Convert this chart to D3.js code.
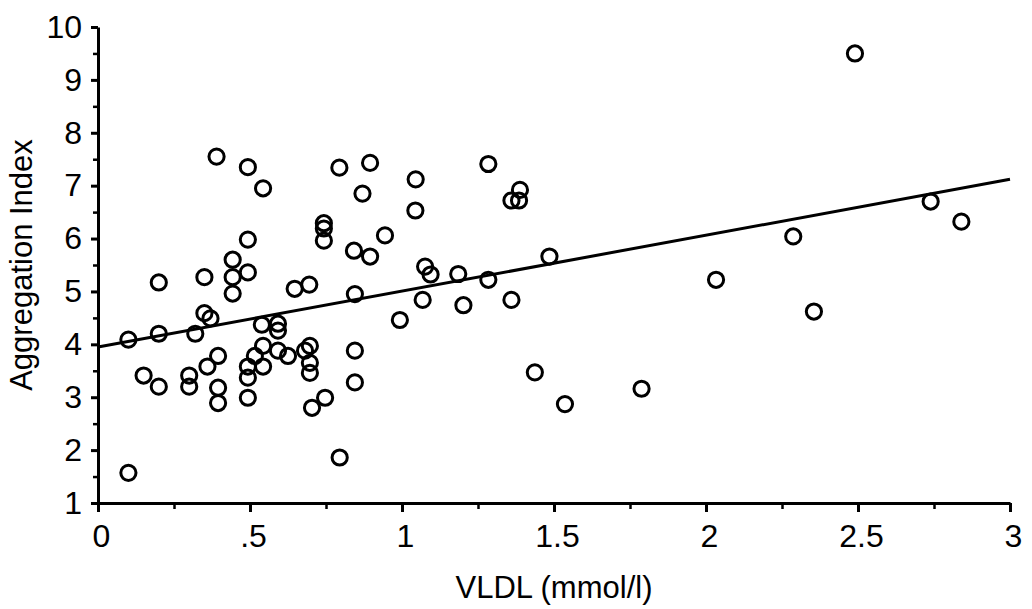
<!DOCTYPE html>
<html>
<head>
<meta charset="utf-8">
<script src="https://cdn.jsdelivr.net/npm/d3@7"></script>
<style>
  body { margin: 0; background: #fff; }
  svg text { font-family: "Liberation Sans", Arial, Helvetica, sans-serif; fill: #000; }
</style>
</head>
<body>
<script>
// data
const vldl = [0.10, 0.10, 0.15, 0.20, 0.20, 0.20, 0.30, 0.30, 0.32, 0.35,
    0.35, 0.37, 0.36, 0.395, 0.395, 0.395, 0.39, 0.443, 0.443, 0.443,
    0.493, 0.493, 0.493, 0.493, 0.493, 0.493, 0.543, 0.516, 0.539, 0.543,
    0.543, 0.592, 0.592, 0.592, 0.625, 0.647, 0.695, 0.681, 0.697, 0.697,
    0.697, 0.704, 0.747, 0.743, 0.743, 0.743, 0.795, 0.794, 0.895, 0.87,
    1.045, 1.044, 0.944, 1.284, 1.388, 1.36, 1.385, 0.842, 0.895, 1.076,
    1.094, 1.185, 1.284, 1.485, 0.845, 1.068, 1.202, 1.36, 0.993, 0.845,
    0.845, 1.437, 1.536, 1.788, 2.033, 2.287, 2.355, 2.49, 2.739, 2.84];
const aggIndex = [1.57, 4.09, 3.41, 3.20, 4.20, 5.17, 3.41, 3.20, 4.20, 5.27,
    4.59, 4.49, 3.58, 3.78, 3.18, 2.89, 7.55, 5.60, 5.27, 4.96,
    7.35, 5.98, 5.36, 3.58, 3.37, 2.99, 6.95, 3.78, 4.37, 3.97,
    3.58, 4.39, 4.26, 3.88, 3.78, 5.05, 5.13, 3.88, 3.97, 3.65,
    3.46, 2.80, 2.99, 6.29, 6.19, 5.96, 1.86, 7.34, 7.43, 6.85,
    7.12, 6.53, 6.06, 7.41, 6.92, 6.72, 6.72, 5.77, 5.66, 5.47,
    5.32, 5.33, 5.22, 5.66, 4.95, 4.84, 4.74, 4.84, 4.46, 3.88,
    3.28, 3.47, 2.87, 3.16, 5.22, 6.04, 4.62, 9.50, 6.70, 6.32];

// regression line end points
const fitX = [0, 3];
const fitY = [3.95, 7.12];

const xTicks = [0, 0.5, 1, 1.5, 2, 2.5, 3];
const xTickLabels = ["0", ".5", "1", "1.5", "2", "2.5", "3"];
const xMinorTicks = [0.25, 0.75, 1.25, 1.75, 2.25, 2.75];
const yTicks = [1, 2, 3, 4, 5, 6, 7, 8, 9, 10];
const yMinorTicks = [1.5, 2.5, 3.5, 4.5, 5.5, 6.5, 7.5, 8.5, 9.5];

const xTitle = "VLDL (mmol/l)";
const yTitle = "Aggregation Index";

let margin = {top: 27, right: 22, bottom: 106, left: 98};
let width = 1032 - margin.left - margin.right;
let height = 609 - margin.top - margin.bottom;

let xScale = d3.scaleLinear().domain([0, 3]).range([0, width]);
let yScale = d3.scaleLinear().domain([1, 10]).range([height, 0]);

let svg = d3.select('body')
    .append('svg')
    .attr('width', 1032)
    .attr('height', 609)
    .append('g')
    .attr('transform', 'translate(' + margin.left + ',' + margin.top + ')');

// minor ticks first, no labels
svg.append('g')
    .attr('transform', 'translate(0,' + height + ')')
    .call(d3.axisBottom(xScale).tickValues(xMinorTicks).tickSize(6).tickSizeOuter(0).tickFormat(''))
    .call(g => g.select('.domain').remove())
    .selectAll('line').attr('stroke-width', 2.5);

svg.append('g')
    .call(d3.axisLeft(yScale).tickValues(yMinorTicks).tickSize(5).tickSizeOuter(0).tickFormat(''))
    .call(g => g.select('.domain').remove())
    .selectAll('line').attr('stroke-width', 2.5);

// main axes
let xAxis = svg.append('g')
    .attr('transform', 'translate(0,' + height + ')')
    .call(d3.axisBottom(xScale)
        .tickValues(xTicks)
        .tickSize(9)
        .tickSizeOuter(0)
        .tickPadding(12)
        .tickFormat((d, i) => xTickLabels[i]));

let yAxis = svg.append('g')
    .call(d3.axisLeft(yScale)
        .tickValues(yTicks)
        .tickSize(7)
        .tickSizeOuter(0)
        .tickPadding(9));

[xAxis, yAxis].forEach(ax => {
    ax.select('.domain').attr('stroke-width', 3);
    ax.selectAll('.tick line').attr('stroke-width', 3);
    ax.selectAll('.tick text')
        .style('font-size', '32px')
        .style('font-family', '"Liberation Sans", Arial, sans-serif');
});
xAxis.selectAll('.tick text').attr('dx', 3);

// regression line
svg.append('line')
    .attr('x1', xScale(fitX[0]))
    .attr('y1', yScale(fitY[0]))
    .attr('x2', xScale(fitX[1]))
    .attr('y2', yScale(fitY[1]))
    .attr('stroke', '#000')
    .attr('stroke-width', 3);

// points
svg.append('g')
    .selectAll('circle')
    .data(vldl.map((v, i) => [v, aggIndex[i]]))
    .enter()
    .append('circle')
    .attr('cx', d => xScale(d[0]))
    .attr('cy', d => yScale(d[1]))
    .attr('r', 7.6)
    .attr('fill', 'none')
    .attr('stroke', '#000')
    .attr('stroke-width', 3);

// axis titles
svg.append('text')
    .attr('x', width / 2)
    .attr('y', height + 95)
    .attr('text-anchor', 'middle')
    .style('font-size', '31px')
    .text(xTitle);

svg.append('text')
    .attr('transform', 'translate(' + (-66) + ',' + (height / 2) + ') rotate(-90)')
    .attr('text-anchor', 'middle')
    .style('font-size', '31px')
    .text(yTitle);
</script>
</body>
</html>
